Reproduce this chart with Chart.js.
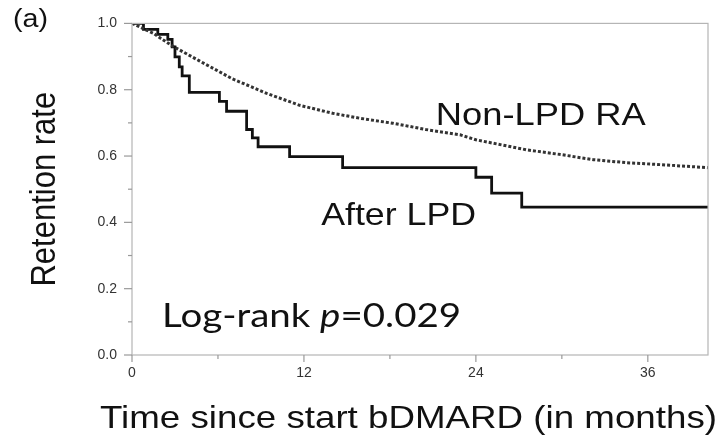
<!DOCTYPE html>
<html lang="en">
<head>
    <meta charset="UTF-8">
    <title>Retention rate</title>
    <script src="https://cdn.jsdelivr.net/npm/chart.js"></script>
    <style>
        body { margin: 0; background: #fff; }
        #grafico { width: 722px; height: 437px; }
    </style>
</head>
<body>
    <div id="grafico">
        <canvas id="grafico-retencao" width="722" height="437"></canvas>
    </div>
    <script>
        // months since start of bDMARD, retention rate
        const afterLpdMonths = [0, 0.8, 1.8, 2.5, 2.8, 3.0, 3.3, 3.5, 4.0, 6.1, 6.6, 8.0, 8.4, 8.8, 11.0, 14.7, 24.0, 25.1, 27.2, 40.2];
        const afterLpdRate   = [1.0, 0.982, 0.967, 0.952, 0.929, 0.899, 0.869, 0.842, 0.792, 0.765, 0.735, 0.68, 0.655, 0.628, 0.598, 0.565, 0.536, 0.488, 0.446, 0.446];

        const nonLpdMonths = [0, 0.5, 1, 1.5, 2, 2.9, 4.7, 7, 9.4, 11.7, 14, 15.9, 18.2, 20.5, 22.9, 24, 27.5, 30, 32.2, 34.5, 36.9, 40.2];
        const nonLpdRate   = [1.0, 0.99, 0.98, 0.97, 0.955, 0.93, 0.887, 0.833, 0.789, 0.753, 0.729, 0.714, 0.699, 0.68, 0.664, 0.649, 0.619, 0.604, 0.589, 0.58, 0.574, 0.565];

        const xTicks = [0, 12, 24, 36];
        const yTicks = [0.0, 0.2, 0.4, 0.6, 0.8, 1.0];

        function pontos(xs, ys) {
            return xs.map((x, i) => ({ x: x, y: ys[i] }));
        }

        // draws text squeezed/stretched horizontally so it fills a given width
        function textoLargo(ctx, partes, x, y, largura) {
            let total = 0;
            partes.forEach(p => { ctx.font = p.font; total += ctx.measureText(p.text).width; });
            const sx = largura ? largura / total : 1;
            ctx.save();
            ctx.translate(x, y);
            ctx.scale(sx, 1);
            ctx.textAlign = 'left';
            ctx.textBaseline = 'alphabetic';
            ctx.fillStyle = '#111';
            let pos = 0;
            partes.forEach(p => {
                ctx.font = p.font;
                ctx.fillText(p.text, pos, 0);
                pos += ctx.measureText(p.text).width;
            });
            ctx.restore();
        }

        const anotacoes = {
            id: 'anotacoes',
            afterDraw(chart) {
                const ctx = chart.ctx;
                const area = chart.chartArea;
                const xs = chart.scales.x;
                const ys = chart.scales.y;

                // box round the plot
                ctx.save();
                ctx.strokeStyle = '#b5b5b5';
                ctx.lineWidth = 1.2;
                ctx.strokeRect(area.left, area.top, area.right - area.left, area.bottom - area.top);

                // tick marks, long at labelled values and short in between
                ctx.strokeStyle = '#999';
                ctx.lineWidth = 1.2;
                ys.ticks.forEach(t => {
                    const py = ys.getPixelForValue(t.value);
                    const len = yTicks.some(v => Math.abs(v - t.value) < 1e-6) ? 8 : 4;
                    ctx.beginPath();
                    ctx.moveTo(area.left - len, py);
                    ctx.lineTo(area.left, py);
                    ctx.stroke();
                });
                xs.ticks.forEach(t => {
                    const px = xs.getPixelForValue(t.value);
                    const len = xTicks.includes(t.value) ? 7 : 4;
                    ctx.beginPath();
                    ctx.moveTo(px, area.bottom);
                    ctx.lineTo(px, area.bottom + len);
                    ctx.stroke();
                });
                ctx.restore();

                // curve labels and test result
                textoLargo(ctx, [{ text: 'Non-LPD RA', font: '31px "Liberation Sans", Arial, sans-serif' }],
                    xs.getPixelForValue(21.2), ys.getPixelForValue(0.693), 210);
                textoLargo(ctx, [{ text: 'After LPD', font: '32px "Liberation Sans", Arial, sans-serif' }],
                    xs.getPixelForValue(13.2), ys.getPixelForValue(0.393), 155);
                textoLargo(ctx, [
                    { text: 'Log-rank ', font: '33px Lato, "Open Sans", sans-serif' },
                    { text: 'p', font: 'italic 33px Lato, "Open Sans", sans-serif' },
                    { text: '=0.029', font: '33px Lato, "Open Sans", sans-serif' }
                ], xs.getPixelForValue(2.1), ys.getPixelForValue(0.083), 299);

                // panel letter
                textoLargo(ctx, [{ text: '(a)', font: '25px "Liberation Sans", Arial, sans-serif' }], 13, 27, 35);

                // axis titles
                textoLargo(ctx, [{ text: 'Time since start bDMARD (in months)', font: '32px "Liberation Sans", Arial, sans-serif' }],
                    100, 428, 617);

                ctx.save();
                ctx.translate(55, (area.top + area.bottom) / 2);
                ctx.scale(1.12, 1);
                ctx.rotate(-Math.PI / 2);
                ctx.font = '31px "Liberation Sans", Arial, sans-serif';
                ctx.textAlign = 'center';
                ctx.textBaseline = 'alphabetic';
                ctx.fillStyle = '#111';
                ctx.fillText('Retention rate', 0, 0);
                ctx.restore();
            }
        };

        function criarGrafico() {
            const ctx = document.getElementById('grafico-retencao').getContext('2d');
            const config = {
                type: 'line',
                data: {
                    datasets: [{
                        label: 'Non-LPD RA',
                        data: pontos(nonLpdMonths, nonLpdRate),
                        borderColor: '#333',
                        borderWidth: 3,
                        borderDash: [3, 2],
                        pointRadius: 0,
                        tension: 0
                    }, {
                        label: 'After LPD',
                        data: pontos(afterLpdMonths, afterLpdRate),
                        borderColor: '#111',
                        borderWidth: 2.8,
                        stepped: true,
                        pointRadius: 0
                    }]
                },
                options: {
                    responsive: false,
                    animation: false,
                    layout: { padding: { top: 19, right: 14, left: 0, bottom: 0 } },
                    plugins: {
                        legend: { display: false },
                        tooltip: { enabled: false }
                    },
                    scales: {
                        x: {
                            type: 'linear',
                            min: 0,
                            max: 40.2,
                            grid: { display: false, drawTicks: false },
                            border: { display: false },
                            afterFit(scale) { scale.height = 82; },
                            ticks: {
                                stepSize: 6,
                                includeBounds: false,
                                autoSkip: false,
                                maxRotation: 0,
                                padding: 10,
                                color: '#333',
                                font: { family: '"Liberation Sans", Arial, sans-serif', size: 14 },
                                callback: v => xTicks.includes(v) ? String(v) : ''
                            }
                        },
                        y: {
                            min: 0,
                            max: 1,
                            grid: { display: false, drawTicks: false },
                            border: { display: false },
                            afterFit(scale) { scale.width = 132; },
                            ticks: {
                                stepSize: 0.1,
                                autoSkip: false,
                                padding: 15,
                                color: '#333',
                                font: { family: '"Liberation Sans", Arial, sans-serif', size: 14 },
                                callback: v => yTicks.some(t => Math.abs(t - v) < 1e-6) ? v.toFixed(1) : ''
                            }
                        }
                    }
                },
                plugins: [anotacoes]
            };
            new Chart(ctx, config);
        }

        window.onload = function() {
            criarGrafico();
        };
    </script>
</body>
</html>
